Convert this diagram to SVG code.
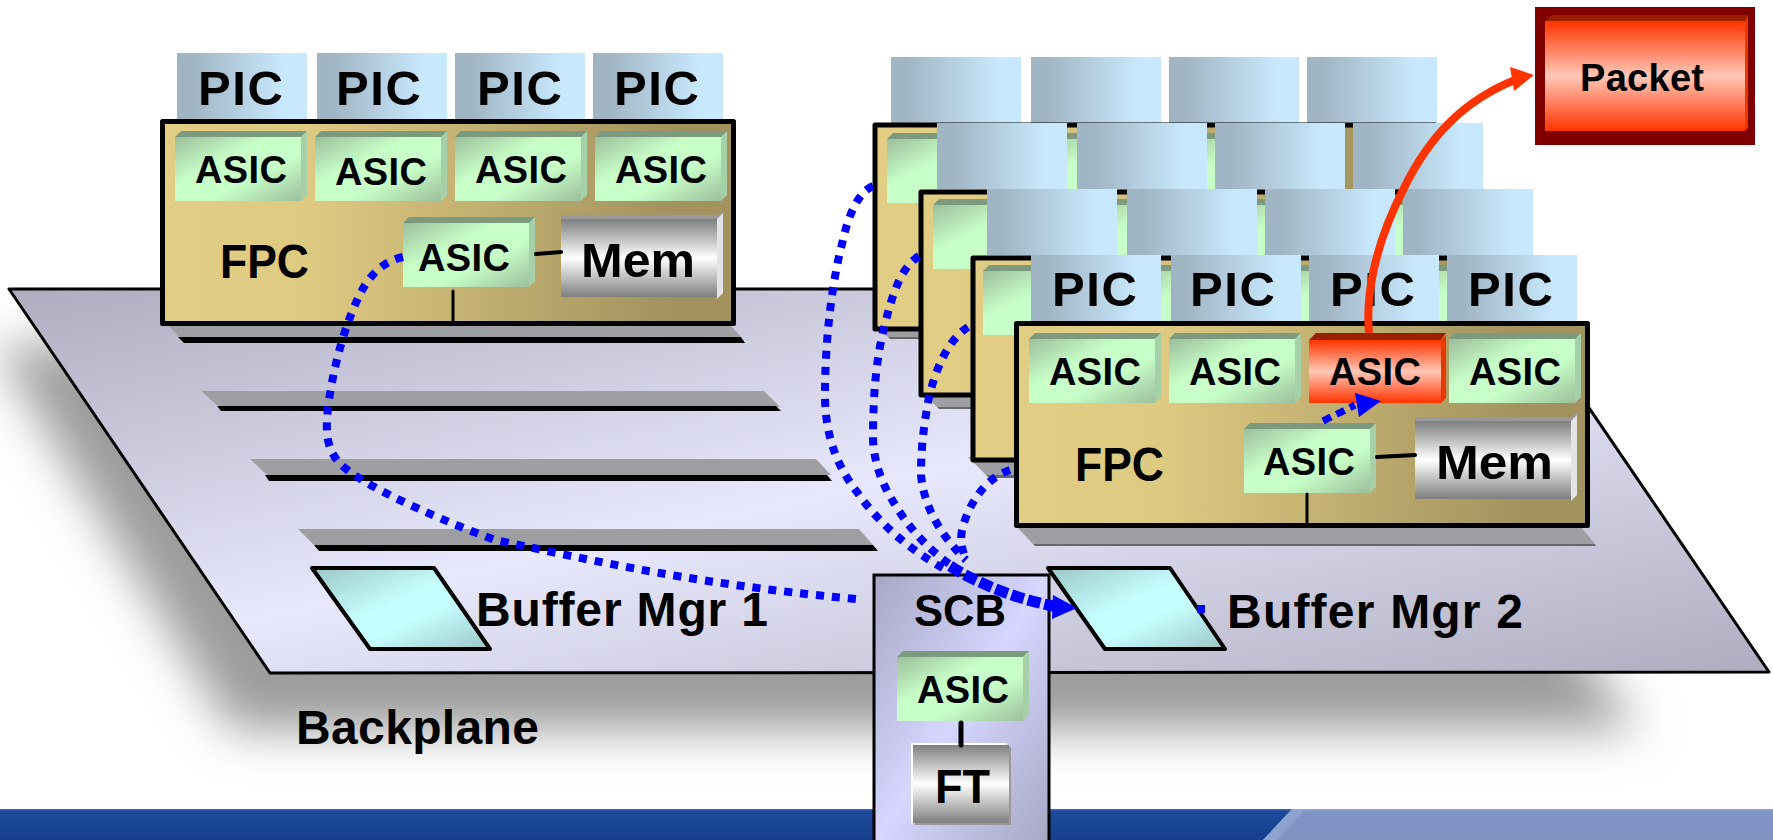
<svg xmlns="http://www.w3.org/2000/svg" width="1773" height="840" viewBox="0 0 1773 840">
<style>
text{font-family:"Liberation Sans",Arial,sans-serif;font-weight:700;fill:#000}
.s49{font-size:49px}.s38{font-size:38px}.s48{font-size:48px}.s45{font-size:45px}.s37{font-size:38px}
.fpc{fill:url(#gFpc);stroke:#000;stroke-width:5;stroke-linejoin:round}
.pic{fill:url(#gPic)}
.gray{fill:#9e9fa3}.bar{fill:#000}.dk{fill:#66676b}
.wire{stroke:#000;fill:none;stroke-linecap:round}
.buf{fill:url(#gBuf);stroke:#000;stroke-width:4;stroke-linejoin:round}
.dash{fill:none;stroke:#00f;stroke-width:8;stroke-dasharray:8 8}
</style>
<defs>
<linearGradient id="gPlane" x1="0" y1="0" x2="1" y2="1"><stop offset="0" stop-color="#aeadbf"/><stop offset=".5" stop-color="#e8e8fc"/><stop offset="1" stop-color="#aeadbf"/></linearGradient>
<linearGradient id="gFpc" x1="0" y1="0" x2="1" y2="0"><stop offset="0" stop-color="#e2cd84"/><stop offset=".25" stop-color="#dfca82"/><stop offset=".9" stop-color="#a1925e"/><stop offset="1" stop-color="#a1925e"/></linearGradient>
<linearGradient id="gPic" x1="0" y1="0" x2="1" y2="0"><stop offset=".12" stop-color="#a0b5c3"/><stop offset=".82" stop-color="#c8e8fd"/></linearGradient>
<linearGradient id="gAsic" x1="0" y1="0" x2="1" y2="1"><stop offset="0" stop-color="#9cbf9c"/><stop offset=".38" stop-color="#c8ffc8"/><stop offset=".62" stop-color="#c8ffc8"/><stop offset="1" stop-color="#9cbf9c"/></linearGradient>
<linearGradient id="gMem" x1="0" y1="0" x2="0" y2="1"><stop offset="0" stop-color="#7f7f7f"/><stop offset=".5" stop-color="#fff"/><stop offset="1" stop-color="#7f7f7f"/></linearGradient>
<linearGradient id="gRed" x1="0" y1="0" x2="0" y2="1"><stop offset="0" stop-color="#ff3300"/><stop offset=".5" stop-color="#ffc8b8"/><stop offset="1" stop-color="#ff3300"/></linearGradient>
<linearGradient id="gBuf" x1="0" y1="0" x2="1" y2="1"><stop offset="0" stop-color="#9cc6c6"/><stop offset=".45" stop-color="#c6ffff"/><stop offset=".6" stop-color="#c6ffff"/><stop offset="1" stop-color="#9cc6c6"/></linearGradient>
<linearGradient id="gScb" x1="0" y1="0" x2="1" y2="1"><stop offset="0" stop-color="#a6a6c4"/><stop offset=".5" stop-color="#d6d6ff"/><stop offset="1" stop-color="#a6a6c4"/></linearGradient>
<linearGradient id="gBand" x1="0" y1="0" x2="0" y2="1"><stop offset="0" stop-color="#4a6dae"/><stop offset=".08" stop-color="#1c4a9c"/><stop offset="1" stop-color="#17408c"/></linearGradient>
<linearGradient id="gBandR" x1="0" y1="0" x2="0" y2="1"><stop offset="0" stop-color="#97a8cf"/><stop offset=".08" stop-color="#8095c5"/><stop offset="1" stop-color="#7e93c2"/></linearGradient>
<filter id="blur" x="-10%" y="-30%" width="120%" height="160%"><feGaussianBlur stdDeviation="24"/></filter>
<g id="asic"><polygon points="0,0 6,-6 132,-6 126,0" fill="#7b9a7e"/><polygon points="126,0 132,-6 132,58 126,64" fill="#a6d0a8"/><rect width="126" height="64" fill="url(#gAsic)"/></g>
<g id="mem"><polygon points="0,0 0,-4 156,-4 162,-8 162,74 156,78 156,0" fill="#999"/><polygon points="156,0 162,-6 162,74 156,80" fill="#e4e4e4"/><rect width="156" height="78" fill="url(#gMem)"/></g>
</defs>

<rect width="1773" height="840" fill="#fff"/>
<g id="shadow"><polygon points="-5,345 1340,345 1640,730 232,730" fill="#9c9c9c" filter="url(#blur)"/></g>
<g id="band"><rect y="809" width="1773" height="31" fill="url(#gBand)"/><polygon points="1292,809 1773,809 1773,840 1263,840" fill="url(#gBandR)"/><polygon points="1292,809 1305,809 1277,840 1263,840" fill="#8ea4d0"/></g>

<g id="backplane">
<polygon points="9,289 1508,289 1769,672 270,673" fill="url(#gPlane)" stroke="#000" stroke-width="3" stroke-linejoin="round"/>
<text x="296" y="744" class="s48" textLength="243">Backplane</text>
</g>

<g id="slots">
<polygon points="201,391 764,391 780,407 219,407" class="gray"/><polygon points="217,406 776,406 781,411 221,411" class="bar"/>
<polygon points="250,459 816,459 831,475 267,475" class="gray"/><polygon points="265,475 827,475 832,481 269,481" class="bar"/>
<polygon points="298,529 859,529 873,545 314,545" class="gray"/><polygon points="314,545 873,545 878,551 319,551" class="bar"/>
</g>

<g id="fpc-left">
<polygon points="169,326 731,326 741,337 179,337" class="gray"/><polygon points="178,337 741,337 745,343 184,343" class="bar"/>
<rect class="pic" x="177" y="53" width="130" height="66"/><rect class="pic" x="317" y="53" width="130" height="66"/><rect class="pic" x="455" y="53" width="130" height="66"/><rect class="pic" x="593" y="53" width="130" height="66"/>
<text x="198" y="105" class="s49" textLength="85">PIC</text><text x="336" y="105" class="s49" textLength="85">PIC</text><text x="477" y="105" class="s49" textLength="85">PIC</text><text x="614" y="105" class="s49" textLength="85">PIC</text>
<rect class="fpc" x="162.500" y="121.500" width="571" height="202"/>
<use href="#asic" x="175" y="137"/><use href="#asic" x="315" y="137"/><use href="#asic" x="455" y="137"/><use href="#asic" x="595" y="137"/>
<use href="#asic" x="403" y="223"/><use href="#mem" x="561" y="219"/>
<text x="195" y="183" class="s38" textLength="92">ASIC</text><text x="335" y="185" class="s38" textLength="92">ASIC</text><text x="475" y="183" class="s38" textLength="92">ASIC</text><text x="615" y="183" class="s38" textLength="92">ASIC</text>
<text x="418" y="271" class="s38" textLength="92">ASIC</text>
<text x="581" y="277" class="s48" textLength="114" lengthAdjust="spacingAndGlyphs">Mem</text>
<text x="220" y="278" class="s48" textLength="89" lengthAdjust="spacingAndGlyphs">FPC</text>
<line class="wire" x1="536" y1="254" x2="561" y2="252" stroke-width="4"/><line class="wire" x1="453" y1="291" x2="453" y2="323" stroke-width="3"/>
</g>

<g id="pics-back-1"><rect class="pic" x="891" y="57" width="130" height="66"/><rect class="pic" x="1031" y="57" width="130" height="66"/><rect class="pic" x="1169" y="57" width="130" height="66"/><rect class="pic" x="1307" y="57" width="130" height="66"/></g>
<g id="fpc-back-1">
<polygon points="878,329 1440,329 1452,337 888,337" class="gray"/><polygon points="888,337 1452,337 1453,339 890,339" class="dk"/>
<rect class="fpc" x="875" y="125" width="560" height="204"/>
<use href="#asic" x="887" y="139"/><use href="#asic" x="1027" y="139"/><use href="#asic" x="1167" y="139"/>
</g>
<g id="pics-back-2"><rect class="pic" x="937" y="123" width="130" height="66"/><rect class="pic" x="1077" y="123" width="130" height="66"/><rect class="pic" x="1215" y="123" width="130" height="66"/><rect class="pic" x="1353" y="123" width="130" height="66"/></g>
<g id="fpc-back-2">
<polygon points="925,395 1490,395 1500,407 937,407" class="gray"/><polygon points="937,407 1500,407 1501,409 939,409" class="dk"/>
<rect class="fpc" x="921" y="192" width="555" height="203"/>
<use href="#asic" x="933" y="205"/><use href="#asic" x="1073" y="205"/><use href="#asic" x="1213" y="205"/><use href="#asic" x="1345" y="205"/>
</g>
<g id="pics-back-3"><rect class="pic" x="987" y="189" width="130" height="66"/><rect class="pic" x="1127" y="189" width="130" height="66"/><rect class="pic" x="1265" y="189" width="130" height="66"/><rect class="pic" x="1403" y="189" width="130" height="66"/></g>
<g id="fpc-back-3">
<polygon points="968,457 1530,457 1545,475 986,475" class="gray"/><polygon points="986,475 1545,475 1546,478 989,478" class="dk"/>
<rect class="fpc" x="973" y="258" width="555" height="202"/>
<use href="#asic" x="983" y="271"/><use href="#asic" x="1123" y="271"/><use href="#asic" x="1263" y="271"/><use href="#asic" x="1390" y="271"/>
</g>

<g id="fpc-front">
<polygon points="1017,527 1581,527 1595,544 1033,544" class="gray"/><polygon points="1033,544 1595,544 1596,546 1035,546" class="dk"/>
<rect class="pic" x="1031" y="255" width="130" height="66"/><rect class="pic" x="1171" y="255" width="130" height="66"/><rect class="pic" x="1309" y="255" width="130" height="66"/><rect class="pic" x="1447" y="255" width="130" height="66"/>
<text x="1052" y="306" class="s49" textLength="85">PIC</text><text x="1190" y="306" class="s49" textLength="85">PIC</text><text x="1330" y="306" class="s49" textLength="85">PIC</text><text x="1468" y="306" class="s49" textLength="85">PIC</text>
<rect class="fpc" x="1016.500" y="323.500" width="571" height="202"/>
<use href="#asic" x="1029" y="339"/><use href="#asic" x="1169" y="339"/><use href="#asic" x="1449" y="339"/>
<use href="#asic" x="1244" y="429"/><use href="#mem" x="1415" y="421"/>
<text x="1049" y="385" class="s38" textLength="92">ASIC</text><text x="1189" y="385" class="s38" textLength="92">ASIC</text><text x="1469" y="385" class="s38" textLength="92">ASIC</text>
<text x="1263" y="475" class="s38" textLength="92">ASIC</text>
<text x="1436" y="479" class="s48" textLength="117" lengthAdjust="spacingAndGlyphs">Mem</text>
<text x="1075" y="481" class="s48" textLength="89" lengthAdjust="spacingAndGlyphs">FPC</text>
<line class="wire" x1="1377" y1="457" x2="1415" y2="455" stroke-width="4"/><line class="wire" x1="1307" y1="494" x2="1307" y2="524" stroke-width="3"/>
</g>

<g id="asic-red">
<polygon points="1309,340 1316,333 1446,333 1441,340" fill="#992000"/><polygon points="1441,340 1446,335 1446,398 1441,403" fill="#e63a00"/>
<rect x="1309" y="340" width="132" height="63" fill="url(#gRed)"/>
<text x="1329" y="385" class="s38" textLength="92">ASIC</text>
</g>

<g id="buffer-mgr-1"><polygon class="buf" points="312,568 434,568 490,649 370,649"/><text x="476" y="626" class="s48" textLength="292">Buffer Mgr 1</text></g>
<g id="buffer-mgr-2"><polygon class="buf" points="1048,568 1170,568 1225,649 1105,649"/><text x="1227" y="628" class="s48" textLength="296">Buffer Mgr 2</text></g>

<g id="scb">
<rect x="874" y="575" width="175" height="268" fill="url(#gScb)" stroke="#000" stroke-width="3"/>
<text x="914" y="626" class="s45" textLength="92" lengthAdjust="spacingAndGlyphs">SCB</text>
<use href="#asic" x="897" y="657"/>
<text x="917" y="703" class="s38" textLength="92">ASIC</text>
<rect x="911" y="743" width="96" height="80" fill="#fff"/><rect x="915" y="747" width="96" height="78" fill="#999"/>
<rect x="913" y="745" width="96" height="78" fill="url(#gMem)"/>
<text x="935" y="803" class="s48" textLength="55" lengthAdjust="spacingAndGlyphs">FT</text>
<line class="wire" x1="961" y1="723" x2="961" y2="745" stroke-width="5"/>
</g>

<g id="packet">
<rect x="1535" y="7" width="220" height="138" fill="#800000"/>
<polygon points="1545,21 1552,15 1748,15 1745,21" fill="#992000"/><polygon points="1745,21 1748,15 1748,128 1745,131" fill="#e63a00"/>
<rect x="1545" y="21" width="200" height="110" fill="url(#gRed)"/>
<text x="1580" y="91" class="s37" textLength="124">Packet</text>
</g>

<g id="connectors">
<path class="dash" d="M403,257 C385,261 372,272 361,292 C346,322 335,360 329,400 C325,430 326,446 337,460 C352,480 420,512 495,540 C560,553 680,583 856,599"/>
<path class="dash" d="M873,186 C858,192 848,216 842,244 C832,282 825,340 825,395 C825,440 840,470 857,492 C880,525 912,552 950,572"/>
<path class="dash" d="M919,256 C900,268 892,296 884,328 C876,360 873,395 873,440 C875,470 885,490 901,514 C920,542 940,558 958,570"/>
<path class="dash" d="M968,327 C948,340 936,368 929,397 C923,430 921,450 921,475 C924,510 945,540 966,560"/>
<path class="dash" d="M1010,470 C985,478 968,505 962,530 C960,540 962,550 966,560"/>
<path d="M950,566 C980,585 1020,600 1058,607" fill="none" stroke="#00f" stroke-width="11" stroke-dasharray="13 4"/>
<polygon points="1077,608 1053,595 1052,619" fill="#00f"/>
<line x1="1197" y1="609" x2="1205" y2="609" stroke="#00f" stroke-width="8"/>
<path d="M1323,421 L1355,405" fill="none" stroke="#00f" stroke-width="7" stroke-dasharray="9 6"/>
<polygon points="1381,401 1355,393 1359,417" fill="#00f"/>
<path d="M1369,333 C1366,300 1372,250 1404,188 C1430,135 1465,100 1515,80" fill="none" stroke="#ff3300" stroke-width="8"/>
<polygon points="1534,75 1510,67 1514,91" fill="#ff3300"/>
</g>
</svg>
